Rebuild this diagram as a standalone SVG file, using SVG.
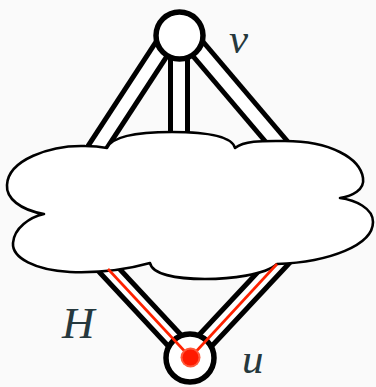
<svg xmlns="http://www.w3.org/2000/svg" width="376" height="387" viewBox="0 0 376 387">
<style>
.outer{stroke:#000;stroke-width:22;fill:none}
.inner{stroke:#fff;stroke-width:12;fill:none}
.red{stroke:#ff2200;stroke-width:2.6;fill:none}
.node{fill:#fff;stroke:#000;stroke-width:5.5}
.lbl{font-family:"Liberation Serif",serif;font-style:italic;font-size:43px;fill:#26383d}
</style>
<rect width="376" height="387" fill="#fafafa"/>
<g id="connectors">
<line class="outer" x1="170" y1="36" x2="89" y2="160"/>
<line class="outer" x1="179" y1="36" x2="179" y2="150"/>
<line class="outer" x1="187" y1="36" x2="288" y2="155"/>
<line class="outer" x1="190" y1="357" x2="95" y2="255"/>
<line class="outer" x1="190" y1="357" x2="290" y2="250"/>
<line class="inner" x1="170" y1="36" x2="89" y2="160"/>
<line class="inner" x1="179" y1="36" x2="179" y2="150"/>
<line class="inner" x1="187" y1="36" x2="288" y2="155"/>
<line class="inner" x1="190" y1="357" x2="95" y2="255"/>
<line class="inner" x1="190" y1="357" x2="290" y2="250"/>
</g>
<g id="H">
<path d="M107,148 C112,136 140,132 172,132 C205,132 232,136 235,148 C245,140 265,141 285,141 C330,141 360,158 363,178 C365,190 352,196 340,198 C355,200 373,208 373,222 C373,245 330,262 277,264 C265,275 230,279 205,279 C175,279 152,274 150,263 C125,270 95,273 70,272 C35,270 12,258 13,243 C14,228 30,217 44,214 C20,210 6,198 7,185 C8,160 50,145 85,146 C95,146 102,147 107,148 Z" fill="#fff" stroke="#000" stroke-width="2.6" stroke-linejoin="round"/>
<text class="lbl" x="62" y="338" style="font-size:45px">H</text>
</g>
<g id="v">
<circle class="node" cx="179.5" cy="35.5" r="23.5"/>
<text class="lbl" x="229" y="53">v</text>
</g>
<g id="u">
<circle class="node" cx="190" cy="358" r="24"/>
<line class="red" x1="190.5" y1="357.5" x2="108" y2="269"/>
<line class="red" x1="190.5" y1="357.5" x2="277" y2="264"/>
<circle cx="190.5" cy="357.5" r="10" fill="#ff5a3c"/>
<circle cx="190.5" cy="357.5" r="8" fill="#ff1a00"/>
<text class="lbl" x="242" y="373">u</text>
</g>
</svg>
